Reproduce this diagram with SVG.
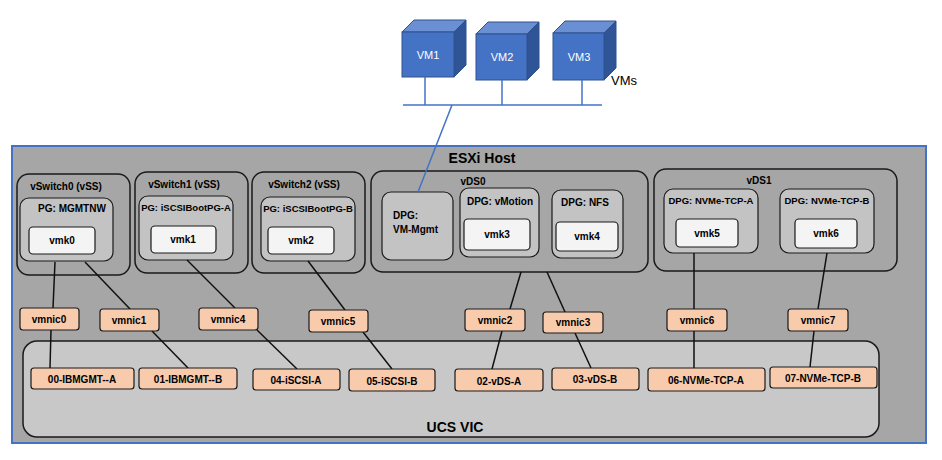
<svg xmlns="http://www.w3.org/2000/svg" width="942" height="460" viewBox="0 0 942 460">
<style>
text{font-family:"Liberation Sans",Arial,sans-serif;font-weight:bold;fill:#000;text-anchor:middle;font-size:10px}
.sw{fill:#a6a6a6;stroke:#1a1a1a;stroke-width:1.5}
.pg{fill:#c3c3c3;stroke:#1a1a1a;stroke-width:1.2}
.vmk{fill:#f4f4f4;stroke:#1a1a1a;stroke-width:1.2}
.nic{fill:#f8cbad;stroke:#1a1a1a;stroke-width:1.2}
.ln{stroke:#111;stroke-width:1.5;fill:none}
.blue{stroke:#4472c4;stroke-width:1.5;fill:none}
.cf{fill:#4472c4;stroke:#2f528f}
.ct{fill:#6a8fd3;stroke:#2f528f}
.cs{fill:#2f5597;stroke:#2f528f}
text.vt{fill:#fff;font-weight:normal;font-size:11px}
text.big{font-size:14px}
text.st{text-anchor:start}
text.sm{font-size:9.5px}
text.vms{font-weight:normal;font-size:13px;text-anchor:start}
</style>
<rect width="942" height="460" fill="#fff"/>
<g id="host"><rect x="12" y="146" width="914" height="297" fill="#a6a6a6" stroke="#4472c4" stroke-width="2"/><text class="big" x="482" y="163">ESXi Host</text></g>
<g id="ucsvic"><rect x="23" y="341" width="856" height="96" rx="14" fill="#c8c8c8" stroke="#1a1a1a" stroke-width="1.5"/><text class="big" x="455" y="432">UCS VIC</text></g>
<g id="vms">
<g id="vm1"><polygon class="ct" points="402,32 414,20 466,20 454,32"/><polygon class="cs" points="454,32 466,20 466,65 454,77"/><rect class="cf" x="402" y="32" width="52" height="45"/><text class="vt" x="428" y="59">VM1</text></g>
<g id="vm2"><polygon class="ct" points="476,34 488,22 539,22 527,34"/><polygon class="cs" points="527,34 539,22 539,68 527,80"/><rect class="cf" x="476" y="34" width="51" height="46"/><text class="vt" x="502" y="61">VM2</text></g>
<g id="vm3"><polygon class="ct" points="553,33 565,21 616,21 604,33"/><polygon class="cs" points="604,33 616,21 616,68 604,80"/><rect class="cf" x="553" y="33" width="51" height="47"/><text class="vt" x="579" y="61">VM3</text></g>
<text class="vms" x="611" y="85">VMs</text>
</g>
<g id="vswitch0"><rect class="sw" x="17" y="174" width="113" height="101" rx="12"/><text x="66" y="190">vSwitch0 (vSS)</text>
<rect class="pg" x="20" y="198" width="93" height="63" rx="9"/><text x="72" y="212">PG: MGMTNW</text>
<rect class="vmk" x="29" y="227" width="66" height="27" rx="4"/><text x="62" y="244">vmk0</text></g>
<g id="vswitch1"><rect class="sw" x="135" y="172" width="113" height="101" rx="12"/><text x="184" y="188">vSwitch1 (vSS)</text>
<rect class="pg" x="139" y="196" width="94" height="64" rx="9"/><text class="sm" x="186" y="211">PG: iSCSIBootPG-A</text>
<rect class="vmk" x="151" y="226" width="65" height="27" rx="4"/><text x="183" y="243">vmk1</text></g>
<g id="vswitch2"><rect class="sw" x="252" y="172" width="113" height="101" rx="12"/><text x="304" y="188">vSwitch2 (vSS)</text>
<rect class="pg" x="261" y="197" width="94" height="64" rx="9"/><text class="sm" x="308" y="212">PG: iSCSIBootPG-B</text>
<rect class="vmk" x="268" y="227" width="66" height="27" rx="4"/><text x="301" y="244">vmk2</text></g>
<g id="vds0"><rect class="sw" x="371" y="171" width="277" height="101" rx="12"/><text x="473" y="185">vDS0</text>
<rect class="pg" x="382" y="192" width="71" height="68" rx="9"/><text class="st" x="393" y="219">DPG:</text><text class="st" x="393" y="233">VM-Mgmt</text>
<rect class="pg" x="460" y="188" width="79" height="69" rx="9"/><text x="500" y="205">DPG: vMotion</text>
<rect class="vmk" x="464" y="219" width="66" height="31" rx="4"/><text x="497" y="238">vmk3</text>
<rect class="pg" x="552" y="190" width="71" height="68" rx="9"/><text x="585" y="206">DPG: NFS</text>
<rect class="vmk" x="556" y="222" width="62" height="29" rx="4"/><text x="587" y="240">vmk4</text></g>
<g id="vds1"><rect class="sw" x="654" y="169" width="243" height="102" rx="12"/><text x="759" y="184">vDS1</text>
<rect class="pg" x="664" y="189" width="94" height="64" rx="9"/><text class="sm" x="711" y="204">DPG: NVMe-TCP-A</text>
<rect class="vmk" x="676" y="219" width="62" height="28" rx="4"/><text x="707" y="237">vmk5</text>
<rect class="pg" x="780" y="189" width="94" height="64" rx="9"/><text class="sm" x="827" y="204">DPG: NVMe-TCP-B</text>
<rect class="vmk" x="795" y="219" width="62" height="29" rx="4"/><text x="826" y="237">vmk6</text></g>
<g id="connectors">
<line class="blue" x1="403" y1="105" x2="602" y2="105"/>
<line class="blue" x1="425" y1="77" x2="425" y2="105"/><line class="blue" x1="502" y1="80" x2="502" y2="105"/><line class="blue" x1="582" y1="80" x2="582" y2="105"/>
<line class="blue" x1="452" y1="105" x2="418" y2="192"/>
<line class="ln" x1="55" y1="262" x2="53" y2="308"/><line class="ln" x1="51" y1="330" x2="50" y2="368"/>
<line class="ln" x1="85" y1="262" x2="130" y2="309"/><line class="ln" x1="152" y1="331" x2="188" y2="368"/>
<line class="ln" x1="187" y1="260" x2="235" y2="308"/><line class="ln" x1="257" y1="330" x2="297" y2="369"/>
<line class="ln" x1="308" y1="261" x2="345" y2="310"/><line class="ln" x1="363" y1="332" x2="392" y2="369"/>
<line class="ln" x1="521" y1="272" x2="510" y2="309"/><line class="ln" x1="547" y1="272" x2="565" y2="312"/>
<line class="ln" x1="502" y1="331" x2="492" y2="369"/><line class="ln" x1="575" y1="333" x2="591" y2="368"/>
<line class="ln" x1="694" y1="253" x2="694" y2="368"/>
<line class="ln" x1="827" y1="253" x2="818" y2="309"/><line class="ln" x1="814" y1="331" x2="810" y2="367"/>
</g>
<g id="vmnics">
<g id="vmnic0"><rect class="nic" x="20" y="308" width="59" height="22" rx="3"/><text x="49" y="323">vmnic0</text></g>
<g id="vmnic1"><rect class="nic" x="100" y="309" width="59" height="22" rx="3"/><text x="129" y="324">vmnic1</text></g>
<g id="vmnic4"><rect class="nic" x="199" y="308" width="59" height="22" rx="3"/><text x="228" y="323">vmnic4</text></g>
<g id="vmnic5"><rect class="nic" x="309" y="310" width="59" height="22" rx="3"/><text x="338" y="325">vmnic5</text></g>
<g id="vmnic2"><rect class="nic" x="465" y="309" width="60" height="22" rx="3"/><text x="495" y="324">vmnic2</text></g>
<g id="vmnic3"><rect class="nic" x="543" y="312" width="60" height="21" rx="3"/><text x="573" y="326">vmnic3</text></g>
<g id="vmnic6"><rect class="nic" x="667" y="309" width="60" height="22" rx="3"/><text x="697" y="324">vmnic6</text></g>
<g id="vmnic7"><rect class="nic" x="788" y="309" width="60" height="22" rx="3"/><text x="818" y="324">vmnic7</text></g>
</g>
<g id="vnics">
<g id="v00"><rect class="nic" x="31" y="368" width="103" height="21" rx="3"/><text x="82" y="383">00-IBMGMT--A</text></g>
<g id="v01"><rect class="nic" x="139" y="368" width="98" height="21" rx="3"/><text x="188" y="383">01-IBMGMT--B</text></g>
<g id="v04"><rect class="nic" x="253" y="369" width="87" height="21" rx="3"/><text x="296" y="384">04-iSCSI-A</text></g>
<g id="v05"><rect class="nic" x="349" y="369" width="86" height="22" rx="3"/><text x="392" y="385">05-iSCSI-B</text></g>
<g id="v02"><rect class="nic" x="455" y="369" width="88" height="22" rx="3"/><text x="499" y="385">02-vDS-A</text></g>
<g id="v03"><rect class="nic" x="552" y="368" width="87" height="22" rx="3"/><text x="595" y="383">03-vDS-B</text></g>
<g id="v06"><rect class="nic" x="648" y="368" width="117" height="23" rx="3"/><text x="706" y="384">06-NVMe-TCP-A</text></g>
<g id="v07"><rect class="nic" x="770" y="367" width="107" height="21" rx="3"/><text x="823" y="382">07-NVMe-TCP-B</text></g>
</g>
</svg>
